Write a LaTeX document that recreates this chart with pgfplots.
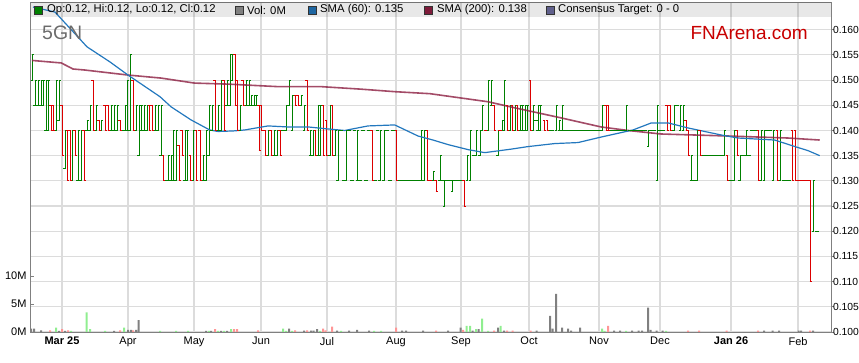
\documentclass[border=0pt]{standalone}
\usepackage{fontspec}
\setmainfont{Liberation Sans}
\usepackage{pgfplots}
\usepackage{pgfplotstable}
\pgfplotsset{compat=1.18}

\definecolor{upg}{RGB}{0,128,0}
\definecolor{dnr}{RGB}{220,0,0}
\definecolor{vg}{RGB}{144,238,144}
\definecolor{vr}{RGB}{255,150,150}
\definecolor{vgr}{RGB}{128,128,128}
\definecolor{smasixty}{RGB}{35,120,190}
\definecolor{smatwo}{RGB}{140,30,65}
\definecolor{gridc}{RGB}{220,220,220}
\definecolor{axc}{RGB}{128,128,128}
\definecolor{fnred}{RGB}{200,0,0}
\definecolor{cons}{RGB}{96,96,140}

\pgfdeclareplotmark{ltick}{\pgfpathmoveto{\pgfqpoint{-1.7pt}{0pt}}\pgfpathlineto{\pgfqpoint{0.5pt}{0pt}}\pgfusepathqstroke}
\pgfdeclareplotmark{rtick}{\pgfpathmoveto{\pgfqpoint{-0.5pt}{0pt}}\pgfpathlineto{\pgfqpoint{1.7pt}{0pt}}\pgfusepathqstroke}

% price bars: x (chart position), low, high
\pgfplotstableread{
x lo hi
32 0.150 0.155
35 0.145 0.150
38 0.145 0.150
41 0.145 0.150
43.5 0.145 0.150
46 0.140 0.150
48.5 0.140 0.150
56 0.140 0.150
59 0.142 0.150
65 0.1325 0.140
72.5 0.130 0.140
78 0.130 0.140
81 0.130 0.140
87 0.140 0.142
90 0.140 0.145
96 0.140 0.145
101.5 0.140 0.142
111 0.140 0.145
114 0.140 0.145
117 0.140 0.145
122.5 0.140 0.140
125 0.140 0.145
127.5 0.140 0.150
130 0.140 0.155
136 0.140 0.145
139 0.135 0.145
141.5 0.140 0.145
144 0.140 0.145
147 0.140 0.145
155 0.140 0.145
158 0.140 0.145
161 0.135 0.145
166 0.130 0.130
168.5 0.130 0.135
171 0.130 0.135
173.5 0.130 0.140
176 0.130 0.140
185 0.130 0.140
187.5 0.130 0.140
193.5 0.130 0.140
203 0.130 0.135
206 0.130 0.140
209 0.135 0.145
212 0.140 0.145
218 0.140 0.145
221 0.140 0.150
227 0.145 0.150
230 0.145 0.155
232.5 0.150 0.155
240 0.140 0.145
246 0.145 0.150
249 0.145 0.150
251.5 0.145 0.147
254 0.145 0.147
256.5 0.145 0.147
268 0.135 0.140
274 0.135 0.140
277 0.135 0.140
283 0.140 0.140
286.5 0.140 0.145
289.5 0.145 0.150
292.5 0.140 0.147
301 0.145 0.147
304.5 0.140 0.145
310.5 0.135 0.140
313 0.135 0.140
318 0.135 0.145
320.5 0.135 0.145
330 0.135 0.145
335.5 0.135 0.140
338 0.130 0.140
341 0.140 0.140
343.5 0.130 0.130
346.5 0.130 0.140
349.5 0.140 0.140
352 0.130 0.130
354.5 0.140 0.140
357.3 0.130 0.140
360 0.130 0.130
363 0.140 0.140
366 0.130 0.130
369 0.140 0.140
375 0.130 0.130
377.5 0.140 0.140
380 0.130 0.140
384 0.130 0.140
387 0.140 0.140
390 0.130 0.130
393 0.140 0.140
400 0.130 0.130
403 0.130 0.130
406 0.130 0.130
409 0.130 0.130
412 0.130 0.130
415 0.130 0.130
418 0.130 0.130
421.3 0.130 0.140
424 0.130 0.140
433.3 0.130 0.1318
440 0.130 0.135
442.5 0.130 0.130
444.7 0.125 0.130
447.5 0.130 0.130
450 0.130 0.130
452.5 0.1278 0.130
455 0.130 0.130
458 0.130 0.130
461 0.130 0.130
467.3 0.130 0.135
470.7 0.130 0.140
473.5 0.135 0.135
476.7 0.135 0.140
480 0.135 0.140
482.7 0.140 0.145
488 0.140 0.150
491.3 0.145 0.150
498 0.135 0.140
502.3 0.140 0.142
504.7 0.140 0.150
510 0.140 0.145
515 0.140 0.145
520 0.140 0.145
522.5 0.140 0.145
525 0.140 0.145
527.5 0.140 0.145
533.3 0.140 0.145
535.8 0.142 0.142
538 0.140 0.145
540.7 0.140 0.145
550 0.140 0.140
552.5 0.140 0.140
556.7 0.140 0.145
559.3 0.140 0.142
562 0.140 0.145
565 0.140 0.140
568 0.140 0.140
571 0.140 0.140
574 0.140 0.140
577 0.140 0.140
580 0.140 0.140
583 0.140 0.140
586 0.140 0.140
589 0.140 0.140
592 0.140 0.140
595 0.140 0.140
598 0.140 0.140
600.5 0.140 0.140
602.7 0.140 0.145
611.5 0.140 0.140
614.5 0.140 0.140
617.5 0.140 0.140
620.5 0.140 0.140
623.5 0.140 0.140
626.7 0.140 0.145
630 0.140 0.140
633 0.140 0.140
636 0.140 0.140
639 0.140 0.140
642 0.140 0.140
645 0.140 0.140
648.7 0.1368 0.140
651.5 0.140 0.140
654.5 0.140 0.140
657.3 0.130 0.145
660 0.140 0.140
663 0.140 0.140
672 0.140 0.140
674.7 0.140 0.145
677.5 0.145 0.145
680.7 0.140 0.145
683.5 0.140 0.145
691.3 0.130 0.135
694 0.130 0.130
697.3 0.130 0.140
703 0.135 0.135
706 0.135 0.135
709 0.135 0.135
712 0.135 0.135
715 0.135 0.135
718 0.135 0.135
721 0.135 0.135
724.7 0.135 0.140
730.5 0.130 0.130
734 0.130 0.140
740 0.130 0.135
743 0.135 0.135
746 0.135 0.140
749 0.135 0.135
752 0.140 0.140
755 0.140 0.140
761.5 0.130 0.140
764.3 0.130 0.140
767 0.140 0.140
770 0.140 0.140
773.3 0.130 0.140
780.7 0.130 0.140
783.5 0.130 0.130
786.5 0.130 0.130
789.5 0.130 0.130
813.3 0.120 0.130
817 0.120 0.120
}\upbars

\pgfplotstableread{
x lo hi
51 0.140 0.145
53.5 0.140 0.145
62 0.135 0.145
67.5 0.130 0.140
70 0.130 0.140
75 0.135 0.140
84 0.130 0.140
93 0.140 0.150
99 0.140 0.142
105 0.140 0.145
108 0.140 0.145
120 0.140 0.142
133 0.140 0.150
149.5 0.140 0.145
152 0.140 0.145
163.5 0.130 0.135
179 0.130 0.137
182 0.135 0.140
190.5 0.130 0.135
196.5 0.130 0.140
200 0.130 0.140
215 0.140 0.150
224 0.140 0.150
235 0.145 0.155
237.5 0.140 0.150
243 0.145 0.150
259 0.136 0.145
261.5 0.140 0.145
265 0.135 0.140
271 0.135 0.140
280 0.135 0.140
295.5 0.145 0.147
298 0.145 0.147
307 0.140 0.150
315.5 0.135 0.140
323.5 0.135 0.145
326.5 0.135 0.142
332.5 0.135 0.145
372 0.130 0.140
396.7 0.130 0.140
427.3 0.130 0.140
430.3 0.130 0.130
436 0.1278 0.130
464 0.125 0.130
485.5 0.140 0.140
494 0.140 0.145
500 0.140 0.140
507.3 0.140 0.145
512.5 0.140 0.145
517.5 0.140 0.145
530.7 0.140 0.150
544.7 0.140 0.142
547.3 0.140 0.142
606 0.140 0.145
608.7 0.140 0.145
667 0.140 0.145
670 0.140 0.145
686 0.140 0.142
688.5 0.135 0.140
700 0.135 0.140
727.3 0.130 0.135
737.3 0.135 0.140
758.7 0.130 0.140
777.3 0.130 0.140
792.7 0.130 0.140
795.5 0.130 0.140
798.5 0.130 0.130
801.5 0.130 0.130
804.5 0.130 0.130
807.5 0.130 0.130
810 0.110 0.130
}\downbars

% volume (millions)
\pgfplotstableread{
x v
56 0.8
71 0.2
86.7 3.5
90 0.5
105 0.2
124 0.8
160 0.2
176 0.2
188 0.2
209 0.2
218 0.2
224 0.2
231 0.5
283 0.6
286 0.2
292 0.2
320 0.2
341 0.2
374 0.2
381 0.2
466.7 1.1
470 1.1
476 0.5
482 2.4
488 0.2
500.7 1.1
602 0.6
604.7 0.2
626 0.2
666 0.2
}\volup

\pgfplotstableread{
x v
50 0.3
62 0.5
68 0.3
120 0.3
133 0.3
215 0.5
234 0.5
237 0.5
258 0.3
295 0.3
307 0.3
323 0.6
325.5 0.3
332 0.95
396 0.8
436 0.25
463 0.4
494 0.25
507 0.25
512.7 0.25
530.7 0.25
608 1.1
688 0.25
699 0.25
726.7 0.25
758 0.25
810 0.25
}\voldown

\pgfplotstableread{
x v
31 0.6
34 0.6
41 0.3
59 0.2
65 0.2
114 0.2
128 0.4
131 0.4
136 0.4
138.7 2.1
206 0.2
211 0.2
221 0.2
227 0.2
289 0.6
304 0.25
311 0.25
313.5 0.25
317 0.5
337 0.25
349 0.25
357 0.4
369 0.25
402 0.25
406 0.25
423 0.25
448 0.25
460.7 0.8
472.7 0.25
478.7 0.5
498 0.8
504 0.25
536.7 0.25
550 2.9
552.7 0.6
556 6.8
562 0.8
568 0.6
571 0.25
580 0.8
614 0.25
620 0.25
632 0.25
638.7 0.25
642 0.25
648 4.35
650.7 0.4
656.7 0.25
662.7 0.25
764 0.25
772.7 0.25
779 0.25
798.7 0.25
801 0.25
813 0.25
}\volflat

\begin{document}
\begin{tikzpicture}

% ---------- price axis ----------
\begin{axis}[
  at={(30pt,31pt)}, anchor=south west,
  scale only axis, width=801pt, height=330pt,
  xmin=30, xmax=831, ymin=0.100, ymax=0.1655,
  axis line style={draw=axc, line width=0.9pt},
  xtick={62,128,194,261,327,396,461,529,599,660,731,798},
  xticklabels={\textbf{Mar 25},Apr,May,Jun,Jul,Aug,Sep,Oct,Nov,Dec,\textbf{Jan 26},Feb},
  xtick pos=bottom,
  x tick style={draw=none},
  ytick={0.100,0.105,0.110,0.115,0.120,0.125,0.130,0.135,0.140,0.145,0.150,0.155,0.160},
  ytick pos=right, yticklabel pos=right,
  y tick style={draw=axc, line width=0.9pt},
  tick align=outside, major tick length=2.5pt,
  scaled y ticks=false,
  y tick label style={/pgf/number format/fixed, /pgf/number format/fixed zerofill,
     /pgf/number format/precision=3, /pgf/number format/assume math mode=true},
  x tick label style={font=\fontsize{11}{13}\selectfont, yshift=1pt},
  y tick label style={font=\fontsize{10.3}{12}\selectfont, xshift=-4pt},
  grid=major, grid style={draw=gridc, line width=1.1pt},
  clip=true,
]
% header band
\fill[black, fill opacity=0.09] (axis cs:30,0.16250) rectangle (axis cs:831,0.1655);

% up bars
\addplot[upg, only marks, mark=ltick, mark options={line width=1pt},
  error bars/.cd, y dir=plus, y explicit, error mark=none,
  error bar style={upg, line width=1pt}]
  table[x=x, y=lo, y error expr=\thisrow{hi}-\thisrow{lo}] {\upbars};
\addplot[upg, only marks, mark=rtick, mark options={line width=1pt}]
  table[x=x, y=hi] {\upbars};
% down bars
\addplot[dnr, only marks, mark=ltick, mark options={line width=1pt},
  error bars/.cd, y dir=minus, y explicit, error mark=none,
  error bar style={dnr, line width=1pt}]
  table[x=x, y=hi, y error expr=\thisrow{hi}-\thisrow{lo}] {\downbars};
\addplot[dnr, only marks, mark=rtick, mark options={line width=1pt}]
  table[x=x, y=lo] {\downbars};

% SMA 200
\addplot[smatwo, line width=1.6pt, opacity=0.8, mark=none] coordinates {
(32,0.1539) (61.3,0.1534) (73,0.1522) (84.7,0.1520) (128,0.1510) (161,0.1504) (194.7,0.1494)
(228,0.1492) (278,0.1487) (321,0.1487) (361,0.1482) (394.7,0.1477) (430,0.1473)
(488,0.1457) (514.7,0.1445) (561,0.1425) (601,0.1407) (628,0.1400) (661,0.1393)
(728,0.1389) (788,0.1385) (819.7,0.1381)};
% SMA 60
\addplot[smasixty, line width=1.2pt, mark=none] coordinates {
(33,0.1645) (55,0.1635) (87,0.1566) (110,0.1536) (128,0.1510) (160,0.1467) (171,0.1447)
(191,0.1421) (209.7,0.1401) (218,0.1398) (233,0.1399) (244.7,0.1401) (268,0.1409)
(288,0.1407) (308,0.1407) (328,0.1403) (344.7,0.1400) (368,0.1409) (394.7,0.1411)
(418,0.1389) (433,0.1381) (448,0.1372) (468,0.1362) (484.7,0.1356) (511.3,0.1363)
(528,0.1368) (554.7,0.1374) (578,0.1376) (601.3,0.1387) (633,0.1401) (651.3,0.1415)
(668,0.1415) (688,0.1405) (721.3,0.1391) (738,0.1385) (774.7,0.1381) (795,0.1368)
(808,0.1360) (819.7,0.1350)};
\end{axis}

% ---------- volume axis ----------
\begin{axis}[
  at={(30pt,31pt)}, anchor=south west,
  scale only axis, width=801pt, height=330pt,
  xmin=30, xmax=831, ymin=0, ymax=58.93,
  hide x axis,
  axis y line*=left,
  axis line style={draw=axc, line width=0.9pt},
  ytick={0,5,10}, yticklabels={0M,5M,10M},
  y tick style={draw=axc, line width=0.9pt},
  tick align=inside, major tick length=4pt,
  tick label style={font=\fontsize{11}{13}\selectfont},
  ybar, bar width=2pt,
]
\addplot[fill=vg, draw=none, bar shift=0pt] table[x=x, y=v] {\volup};
\addplot[fill=vr, draw=none, bar shift=0pt] table[x=x, y=v] {\voldown};
\addplot[fill=vgr, draw=none, bar shift=0pt] table[x=x, y=v] {\volflat};
\end{axis}

% ---------- header legend and labels ----------
\begin{scope}[x=1pt, y=1pt, font=\fontsize{11.3}{13}\selectfont]
\filldraw[fill=upg, draw=black!80, line width=0.6pt] (34.5,349) rectangle (42.5,357);
\node[anchor=west, inner sep=0pt] at (47,353) {Op:0.12, Hi:0.12, Lo:0.12, Cl:0.12};
\filldraw[fill=vgr, draw=black!80, line width=0.6pt] (235.5,349) rectangle (243.5,357);
\node[anchor=west, inner sep=0pt] at (247,353) {Vol: 0M};
\filldraw[fill=smasixty!85!black, draw=black!80, line width=0.6pt] (308,349) rectangle (316,357);
\node[anchor=west, inner sep=0pt] at (320,353) {SMA (60): 0.135};
\filldraw[fill=smatwo!90!black, draw=black!80, line width=0.6pt] (424.5,349) rectangle (432.5,357);
\node[anchor=west, inner sep=0pt] at (437,353) {SMA (200): 0.138};
\filldraw[fill=cons, draw=black!80, line width=0.6pt] (546.5,349) rectangle (554.5,357);
\node[anchor=west, inner sep=0pt] at (558,353) {Consensus Target: 0 - 0};
\node[anchor=base west, inner sep=0pt, text=black!58, font=\fontsize{19.5}{22}\selectfont] at (42,323) {5GN};
\node[anchor=base east, inner sep=0pt, text=fnred, font=\fontsize{19}{22}\selectfont] at (808,323.5) {FNArena.com};
\end{scope}

\pgfresetboundingbox
\useasboundingbox (0pt,0pt) rectangle (859pt,363pt);
\end{tikzpicture}
\end{document}
